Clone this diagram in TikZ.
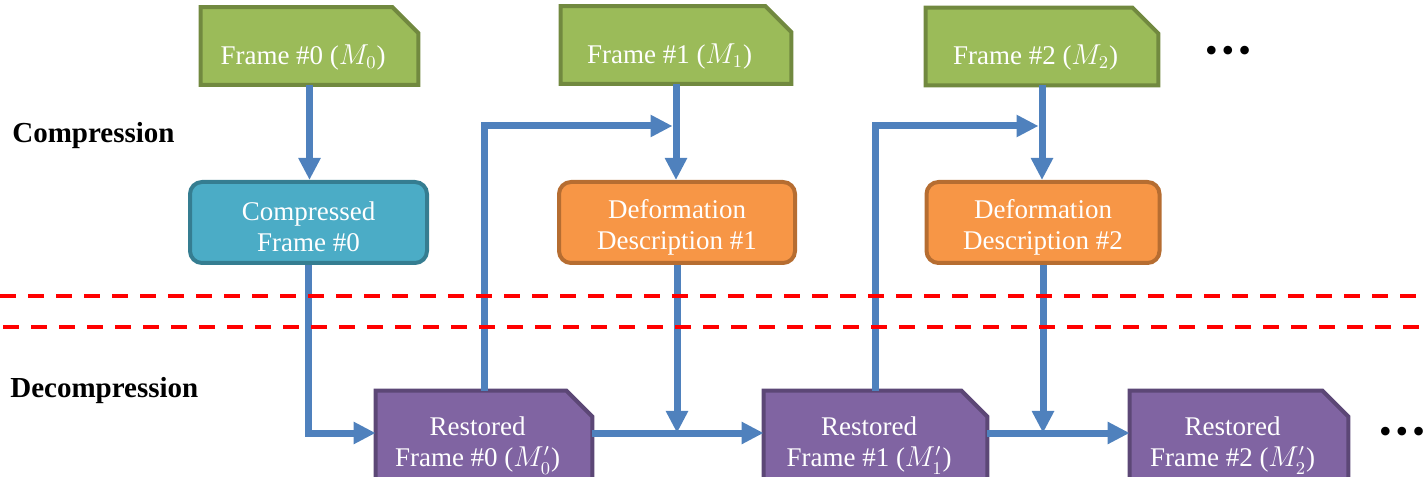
\documentclass[tikz,border=0pt]{standalone}
\usepackage{fontspec}
\setmainfont{Liberation Serif}
\usetikzlibrary{arrows.meta, backgrounds}
\definecolor{framegreen}{HTML}{9BBB59}
\definecolor{framegreenline}{HTML}{71893F}
\definecolor{packteal}{HTML}{4BACC6}
\definecolor{packtealline}{HTML}{357D91}
\definecolor{deforange}{HTML}{F79646}
\definecolor{deforangeline}{HTML}{B66D31}
\definecolor{restpurple}{HTML}{8064A2}
\definecolor{restpurpleline}{HTML}{5C4776}
\definecolor{flowblue}{HTML}{4F81BD}
\tikzset{%
  x=0.5pt, y=0.5pt,
  every node/.style={
    font=\fontsize{13.5}{15.5}\selectfont,
    text=white, align=center, inner sep=0pt},
  snipbox/.style={  % text part of a box with a cut corner
    minimum height=#1},
  roundbox/.style={
    draw=#1line, fill=#1, line width=2pt, rounded corners=6pt,
    minimum height=40.5pt},
  flow/.style={
    draw=flowblue, line width=3.5pt,
    -{Triangle[length=11pt,width=10.5pt]}},
  cutline/.style={
    draw=red, line width=2.25pt, dash pattern=on 8pt off 6pt},
  phase/.style={
    anchor=west, text=black,
    font=\bfseries\fontsize{14.5}{17}\selectfont},
  dots/.style={
    text=black, font=\fontsize{18}{18}\selectfont}
}
\newcommand{\snipframe}[2]{% node name, colour
  \begin{scope}[on background layer]
    \filldraw[fill=#2, draw=#2line, line width=2pt]
      (#1.south west) -- (#1.north west) -- ([xshift=-13pt]#1.north east)
      -- ([yshift=-13pt]#1.north east) -- (#1.south east) -- cycle;
  \end{scope}}
\newcommand{\snipline}[1]{#1\hspace*{6.5pt}}
\newcommand{\liftline}[1]{\rule{0pt}{#1}}
\newcommand{\threedots}{\textbullet\hspace{2pt}\textbullet\hspace{2pt}\textbullet}

\begin{document}
\begin{tikzpicture}
  \useasboundingbox (0,0) rectangle (1427,476);

  % input frames
  \node[snipbox=38.5pt, minimum width=108.5pt] (g0) at (309.5,430)
    {\liftline{21pt}\snipline{Frame \#0 ($M_0$)}};
  \node[snipbox=38.5pt, minimum width=115pt] (g1) at (676,431)
    {\liftline{21pt}\snipline{Frame \#1 ($M_1$)}};
  \node[snipbox=38.5pt, minimum width=116pt] (g2) at (1042,429.5)
    {\liftline{21pt}\snipline{Frame \#2 ($M_2$)}};
  \snipframe{g0}{framegreen}
  \snipframe{g1}{framegreen}
  \snipframe{g2}{framegreen}
  \node[dots] (more top) at (1228,422) {\threedots};

  % compressed data
  \node[roundbox=packteal, minimum width=118.5pt] (c0) at (308.5,253.5)
    {\liftline{14pt}Compressed\\Frame \#0};
  \node[roundbox=deforange, minimum width=118pt] (o1) at (677,253.5)
    {\liftline{14pt}Deformation\\Description \#1};
  \node[roundbox=deforange, minimum width=116.5pt] (o2) at (1043,253.5)
    {\liftline{14pt}Deformation\\Description \#2};

  % restored frames
  \node[snipbox=44pt, minimum width=108pt] (p0) at (484,41)
    {\liftline{20pt}\snipline{Restored}\\\snipline{Frame \#0 ($M_0'$)}};
  \node[snipbox=44pt, minimum width=111.5pt] (p1) at (875.5,41)
    {\liftline{20pt}\snipline{Restored}\\\snipline{Frame \#1 ($M_1'$)}};
  \node[snipbox=44pt, minimum width=109pt] (p2) at (1239,41)
    {\liftline{20pt}\snipline{Restored}\\\snipline{Frame \#2 ($M_2'$)}};
  \snipframe{p0}{restpurple}
  \snipframe{p1}{restpurple}
  \snipframe{p2}{restpurple}
  \node[dots] (more bottom) at (1402,41) {\threedots};

  \coordinate (p0w) at ([yshift=1pt]p0.west);
  \coordinate (p0e) at ([yshift=1pt]p0.east);
  \coordinate (p1w) at ([yshift=1pt]p1.west);
  \coordinate (p1e) at ([yshift=1pt]p1.east);
  \coordinate (p2w) at ([yshift=1pt]p2.west);
  \coordinate (j1) at (g1.south |- 0,350);
  \coordinate (j2) at (g2.south |- 0,350);

  \draw[flow] (g0.south) -- (g0.south |- c0.north);
  \draw[flow] (c0.south) |- (p0w);
  \draw[flow, shorten >=1.75pt] (p0.north) |- (j1);
  \draw[flow] (g1.south) -- (g1.south |- o1.north);
  \draw[flow] (o1.south) -- (o1.south |- p0e);
  \draw[flow] (p0e) -- (p1w);
  \draw[flow, shorten >=1.75pt] (p1.north) |- (j2);
  \draw[flow] (g2.south) -- (g2.south |- o2.north);
  \draw[flow] (o2.south) -- (o2.south |- p1e);
  \draw[flow] (p1e) -- (p2w);

  % border between the two sides
  \draw[cutline] (0,180) -- (1427,180);
  \draw[cutline, dash phase=-1.5pt] (0,149) -- (1427,149);

  \node[phase] (comp) at (12,340) {Compression};
  \node[phase] (decomp) at (10,85) {Decompression};
\end{tikzpicture}
\end{document}
